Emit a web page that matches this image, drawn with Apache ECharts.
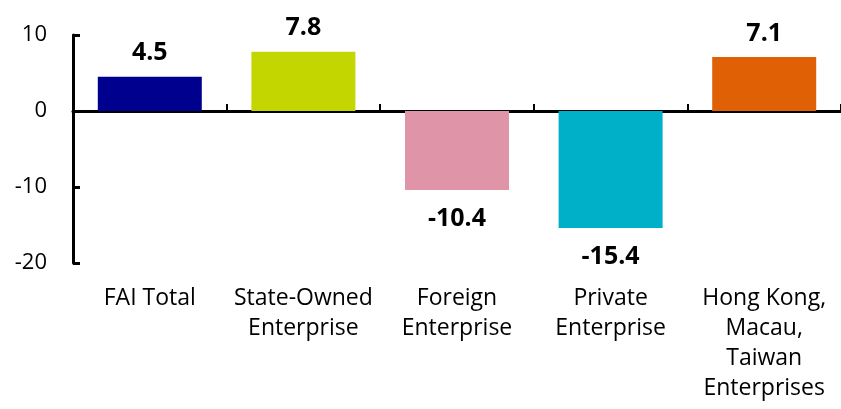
<!DOCTYPE html>
<html>
<head>
<meta charset="utf-8">
<script src="https://cdn.jsdelivr.net/npm/echarts@6/dist/echarts.min.js"></script>
<style>
  html, body { margin: 0; padding: 0; background: #fff; }
  #chart { width: 841px; height: 409px; }
</style>
</head>
<body>
<div id="chart"></div>
<script>
const categories = ['FAI Total', 'State-Owned\nEnterprise', 'Foreign\nEnterprise', 'Private\nEnterprise', 'Hong Kong,\nMacau,\nTaiwan\nEnterprises'];
const values = [4.5, 7.8, -10.4, -15.4, 7.1];
const colors = ['#00008f', '#c4d600', '#e094a8', '#00b0c8', '#e06006'];
const yTicks = { min: -20, max: 10, interval: 10 };

const font = '"Open Sans", Lato, sans-serif';

const chart = echarts.init(document.getElementById('chart'), null, { renderer: 'canvas' });

const data = values.map((v, i) => ({
  value: v,
  itemStyle: { color: colors[i] },
  label: { position: v >= 0 ? 'top' : 'bottom', distance: v >= 0 ? 11 : 16 }
}));

chart.setOption({
  animation: false,
  grid: { left: 73, top: 35, width: 772, height: 228, containLabel: false },
  xAxis: [
    {
      type: 'category',
      data: categories,
      axisLine: { onZero: true, lineStyle: { color: '#000', width: 3 } },
      axisTick: { show: true, inside: true, length: 7, lineStyle: { color: '#000', width: 2 } },
      axisLabel: { show: false }
    },
    {
      type: 'category',
      data: categories,
      position: 'bottom',
      axisLine: { show: false, onZero: false },
      axisTick: { show: false },
      axisLabel: { color: '#000', fontSize: 23, fontFamily: font, lineHeight: 30, margin: 20, interval: 0 }
    }
  ],
  yAxis: {
    type: 'value',
    min: yTicks.min,
    max: yTicks.max,
    interval: yTicks.interval,
    axisLine: { show: true, lineStyle: { color: '#000', width: 3 } },
    axisTick: { show: true, inside: true, length: 7, lineStyle: { color: '#000', width: 3 } },
    splitLine: { show: false },
    axisLabel: { color: '#000', fontSize: 22, fontFamily: font, margin: 26 }
  },
  series: [{
    type: 'bar',
    xAxisIndex: 0,
    data: data,
    barWidth: 104,
    label: {
      show: true,
      color: '#000',
      fontSize: 25,
      fontWeight: 'bold',
      fontFamily: font,
      formatter: p => p.value.toFixed(1)
    }
  }]
});
</script>
</body>
</html>
